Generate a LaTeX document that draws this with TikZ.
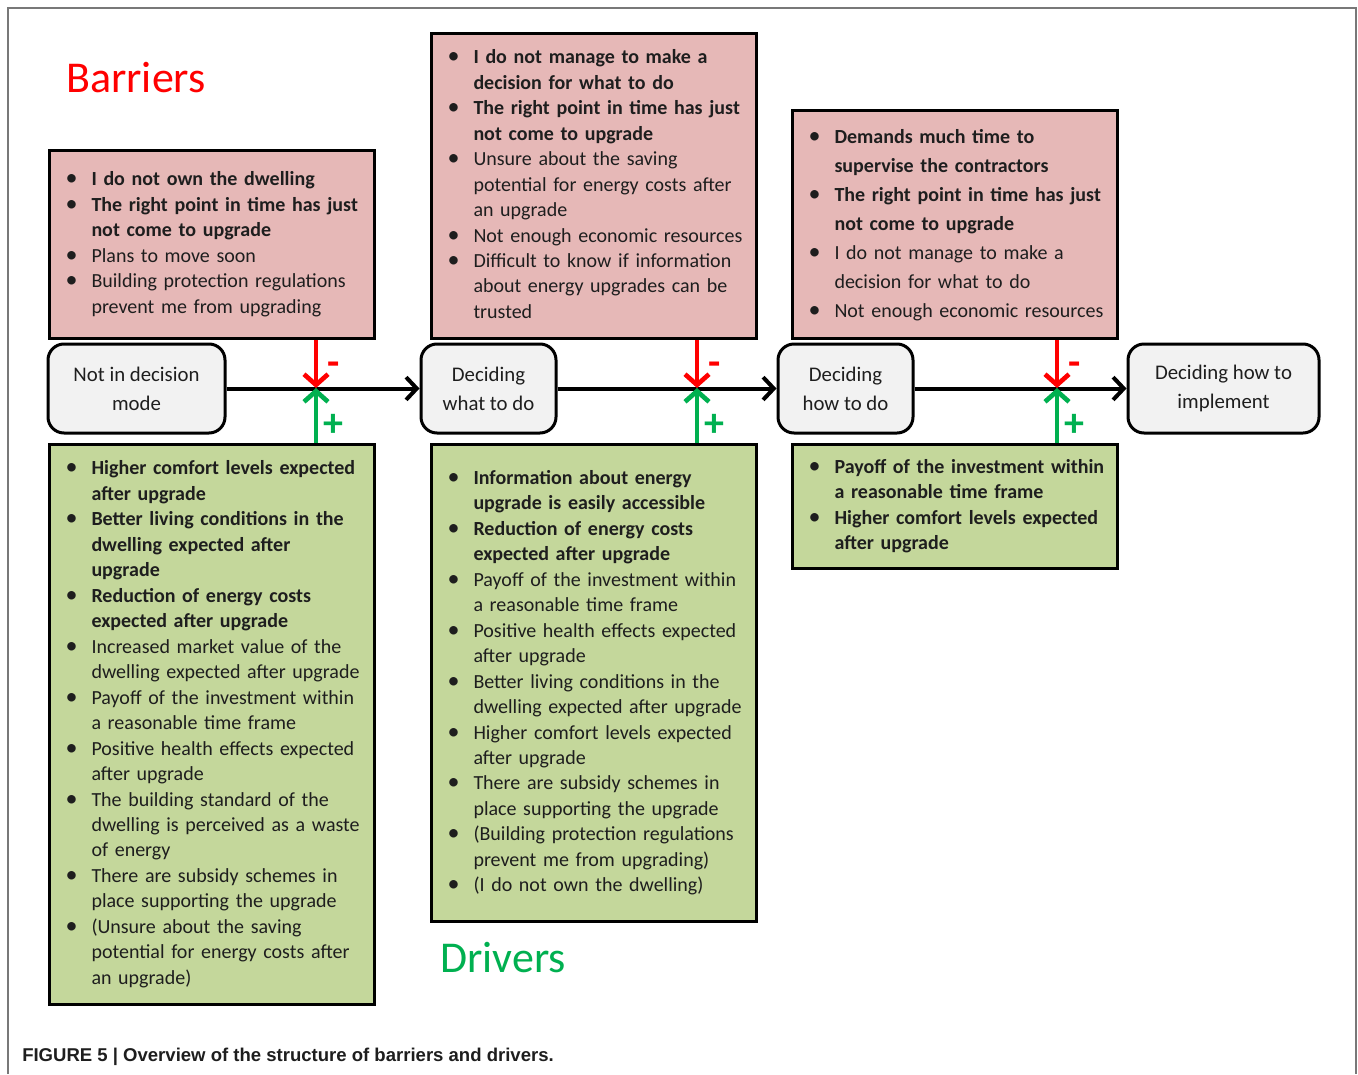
\documentclass[tikz,border=0pt]{standalone}
\usepackage{fontspec}
\setmainfont{Carlito}
\newfontfamily\capfont{Liberation Sans}
\usetikzlibrary{arrows.meta, calc}
\definecolor{pinkfill}{RGB}{230, 184, 183}
\definecolor{greenfill}{RGB}{196, 215, 155}
\definecolor{stagegray}{RGB}{242, 242, 242}
\definecolor{drvgreen}{RGB}{0, 176, 80}
\definecolor{barred}{RGB}{255, 0, 0}
\definecolor{framegray}{RGB}{120, 120, 120}
\definecolor{textdark}{RGB}{30, 30, 30}

\newcommand{\boxfont}{\fontsize{15}{19.1}\selectfont}
\newcommand{\stagefont}{\fontsize{15.6}{21.75}\selectfont}
\newcommand{\blt}{\makebox[19.5pt][l]{\scalebox{1.2}{\textbullet}}}

\tikzset{
  stage/.style={draw, line width=2.25pt, rounded corners=12pt, fill=stagegray, align=center,
    font=\stagefont, text=textdark, minimum height=66.75pt, inner sep=0pt},
  listbox/.style={draw, line width=2.25pt, anchor=north west, inner xsep=12pt, inner ysep=0pt,
    text width=220pt, align=left, font=\boxfont, text=textdark},
  barrier/.style={listbox, fill=pinkfill},
  driver/.style={listbox, fill=greenfill},
  flow/.style={line width=3pt, -{Straight Barb[length=8pt, width=17pt]}},
  barlink/.style={line width=3.5pt, draw=barred, -{Straight Barb[length=8pt, width=18pt]}},
  drvlink/.style={line width=3.5pt, draw=drvgreen, -{Straight Barb[length=8pt, width=18pt]}},
  signlbl/.style={font=\bfseries\fontsize{30}{30}\selectfont, inner sep=0pt},
  heading/.style={font=\fontsize{33}{33}\selectfont, inner sep=0pt}
}

\begin{document}
\begin{tikzpicture}[x=0.75pt, y=-0.75pt]
  \useasboundingbox (0, 0) rectangle (1358, 1074);
  \fill[white] (0, 0) rectangle (1358, 1074);
  \draw[framegray, line width=1.5pt] (8, 1074) -- (8, 8) -- (1356, 8) -- (1356, 1074);

  \node[heading, text=barred] (barriers) at (136, 78) {Barriers};
  \node[heading, text=drvgreen] (drivers) at (503, 958) {Drivers};

  \node[stage, minimum width=132.75pt] (s1) at (136.5, 388.5) {Not in decision\\mode};
  \node[stage, minimum width=101.25pt] (s2) at (488.5, 388.5) {Deciding\\what to do};
  \node[stage, minimum width=101.25pt] (s3) at (845.5, 388.5) {Deciding\\how to do};
  \node[stage, minimum width=143.25pt] (s4) at (1223.5, 388.5) {Deciding how to\\implement};

  \draw[flow] (s1) -- (s2);
  \draw[flow] (s2) -- (s3);
  \draw[flow] (s3) -- (s4);

  \node[barrier, minimum height=141pt] (b1) at (48, 149) {%
    \begin{tabular}{@{}l@{}l@{}}
      \blt & \textbf{I do not own the dwelling}\\
      \blt & \textbf{The right point in time has just}\\
           & \textbf{not come to upgrade}\\
      \blt & Plans to move soon\\
      \blt & Building protection regulations\\
           & prevent me from upgrading
    \end{tabular}};
  \node[barrier, minimum height=228.75pt] (b2) at (430, 32) {%
    \begin{tabular}{@{}l@{}l@{}}
      \blt & \textbf{I do not manage to make a}\\
           & \textbf{decision for what to do}\\
      \blt & \textbf{The right point in time has just}\\
           & \textbf{not come to upgrade}\\
      \blt & Unsure about the saving\\
           & potential for energy costs after\\
           & an upgrade\\
      \blt & Not enough economic resources\\
      \blt & Difficult to know if information\\
           & about energy upgrades can be\\
           & trusted
    \end{tabular}};
  \node[barrier, minimum height=171pt] (b3) at (791, 109) {%
    \renewcommand{\arraystretch}{1.14}%
    \begin{tabular}{@{}l@{}l@{}}
      \blt & \textbf{Demands much time to}\\
           & \textbf{supervise the contractors}\\
      \blt & \textbf{The right point in time has just}\\
           & \textbf{not come to upgrade}\\
      \blt & I do not manage to make a\\
           & decision for what to do\\
      \blt & Not enough economic resources
    \end{tabular}};

  \node[driver, minimum height=420pt] (d1) at (48, 443) {%
    \begin{tabular}{@{}l@{}l@{}}
      \blt & \textbf{Higher comfort levels expected}\\
           & \textbf{after upgrade}\\
      \blt & \textbf{Better living conditions in the}\\
           & \textbf{dwelling expected after}\\
           & \textbf{upgrade}\\
      \blt & \textbf{Reduction of energy costs}\\
           & \textbf{expected after upgrade}\\
      \blt & Increased market value of the\\
           & dwelling expected after upgrade\\
      \blt & Payoff of the investment within\\
           & a reasonable time frame\\
      \blt & Positive health effects expected\\
           & after upgrade\\
      \blt & The building standard of the\\
           & dwelling is perceived as a waste\\
           & of energy\\
      \blt & There are subsidy schemes in\\
           & place supporting the upgrade\\
      \blt & (Unsure about the saving\\
           & potential for energy costs after\\
           & an upgrade)
    \end{tabular}};
  \node[driver, minimum height=357.75pt] (d2) at (430, 443) {%
    \begin{tabular}{@{}l@{}l@{}}
      \blt & \textbf{Information about energy}\\
           & \textbf{upgrade is easily accessible}\\
      \blt & \textbf{Reduction of energy costs}\\
           & \textbf{expected after upgrade}\\
      \blt & Payoff of the investment within\\
           & a reasonable time frame\\
      \blt & Positive health effects expected\\
           & after upgrade\\
      \blt & Better living conditions in the\\
           & dwelling expected after upgrade\\
      \blt & Higher comfort levels expected\\
           & after upgrade\\
      \blt & There are subsidy schemes in\\
           & place supporting the upgrade\\
      \blt & (Building protection regulations\\
           & prevent me from upgrading)\\
      \blt & (I do not own the dwelling)
    \end{tabular}};
  \node[driver, minimum height=93pt] (d3) at (791, 443) {%
    \begin{tabular}{@{}l@{}l@{}}
      \blt & \textbf{Payoff of the investment within}\\
           & \textbf{a reasonable time frame}\\
      \blt & \textbf{Higher comfort levels expected}\\
           & \textbf{after upgrade}
    \end{tabular}};

  \coordinate (j1) at (316, 388);
  \coordinate (j2) at (697, 388);
  \coordinate (j3) at (1057, 388);

  \draw[barlink] (b1.south -| j1) -- (j1);
  \draw[barlink] (b2.south -| j2) -- (j2);
  \draw[barlink] (b3.south -| j3) -- (j3);
  \draw[drvlink] (d1.north -| j1) -- (j1);
  \draw[drvlink] (d2.north -| j2) -- (j2);
  \draw[drvlink] (d3.north -| j3) -- (j3);

  \node[signlbl, text=barred] (m1) at (334, 369) {-};
  \node[signlbl, text=barred] (m2) at (715, 369) {-};
  \node[signlbl, text=barred] (m3) at (1075, 369) {-};
  \node[signlbl, text=drvgreen] (p1) at (333, 425) {+};
  \node[signlbl, text=drvgreen] (p2) at (714, 425) {+};
  \node[signlbl, text=drvgreen] (p3) at (1074, 425) {+};

  \node[anchor=base west, inner sep=0pt, font=\capfont\bfseries\fontsize{13.9}{15}\selectfont, text=textdark]
    (caption) at (22, 1061) {FIGURE 5 | Overview of the structure of barriers and drivers.};
\end{tikzpicture}
\end{document}
